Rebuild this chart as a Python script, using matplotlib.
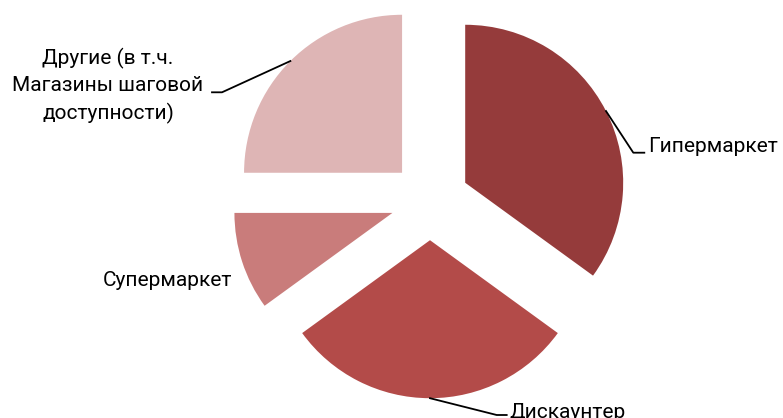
import matplotlib
matplotlib.use("Agg")
import matplotlib.pyplot as plt
import numpy as np

categories = ["Гипермаркет", "Дискаунтер", "Супермаркет",
              "Другие (в т.ч.\nМагазины шаговой\nдоступности)"]
values = [35, 30, 10, 25]
colors = ["#953B3B", "#B34B49", "#C97C7B", "#DEB5B5"]

plt.rcParams['font.family'] = ['Roboto', 'DejaVu Sans']

W, H = 783, 418
fig = plt.figure(figsize=(W / 100, H / 100), dpi=100)
ax = fig.add_axes([0, 0, 1, 1])

cx, cy, R = 430, H - 200.7, 158
gap = 39.5  # explode offset in data (pixel) units
wedges, _ = ax.pie(values, colors=colors, startangle=90, counterclock=False,
                   explode=[gap] * len(values), radius=R, center=(cx, cy),
                   wedgeprops=dict(linewidth=0))
ax.set_xlim(0, W)
ax.set_ylim(0, H)
ax.set_aspect('equal')
ax.axis('off')

def arc_mid(w):
    a = np.deg2rad((w.theta1 + w.theta2) / 2)
    return w.center[0] + w.r * np.cos(a), w.center[1] + w.r * np.sin(a)

fs = 15
# Гипермаркет
x0, y0 = arc_mid(wedges[0])
ax.plot([x0, 633.3, 644.3], [y0, H - 152.7, H - 152.7], color='black', lw=1.3)
ax.text(648, H - 147, categories[0], fontsize=fs, va='center', ha='left')
# Дискаунтер
x0, y0 = arc_mid(wedges[1])
ax.plot([x0, 496.7, 506.7], [y0, H - 415, H - 415], color='black', lw=1.3)
ax.text(510, H - 412, categories[1], fontsize=fs, va='center', ha='left', clip_on=False)
# Супермаркет
ax.text(167, H - 280, categories[2], fontsize=fs, va='center', ha='center')
# Другие
x0, y0 = arc_mid(wedges[3])
ax.plot([x0, 222, 212], [y0, H - 92.3, H - 92.3], color='black', lw=1.3)
ax.text(108, H - 86, categories[3], fontsize=fs, va='center', ha='center',
        multialignment='center', linespacing=1.45)

fig.savefig("out.png", dpi=100)
